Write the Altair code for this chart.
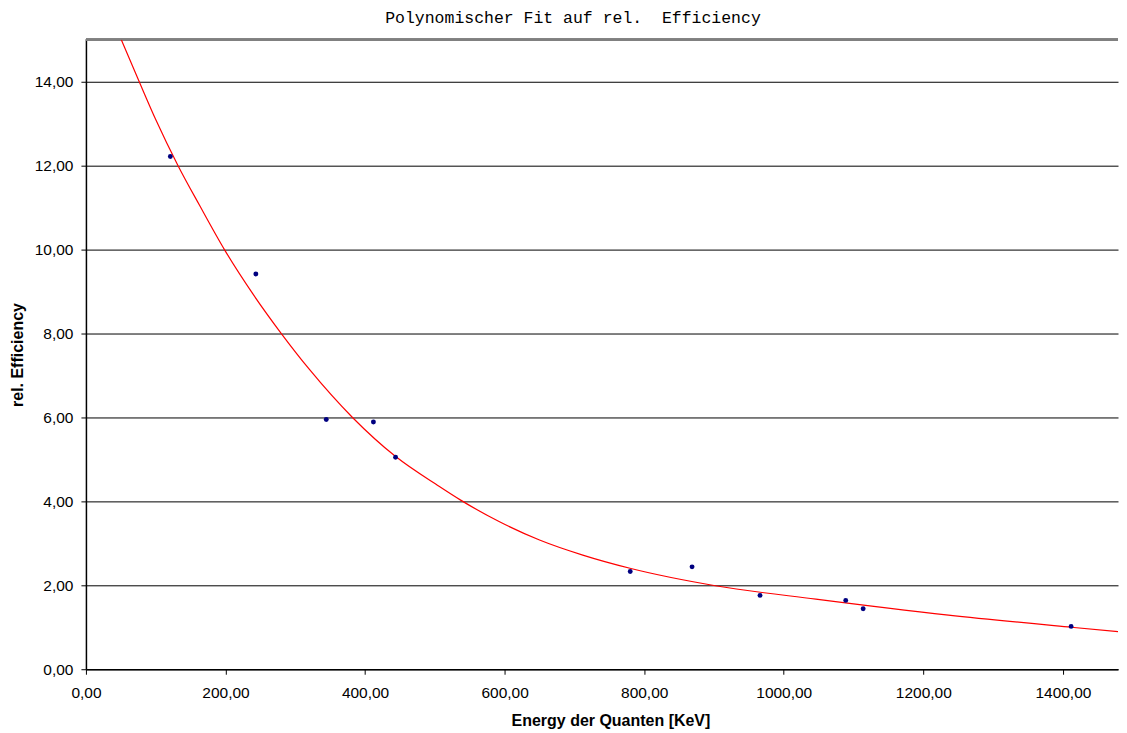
import altair as alt
import pandas as pd

# measured points
energy = [121, 243.5, 344.4, 412, 443.7, 780, 868.6, 966, 1088.8, 1113.8, 1411.8]
eff = [12.22, 9.42, 5.95, 5.89, 5.05, 2.33, 2.44, 1.76, 1.64, 1.44, 1.02]

# polynomial fit curve
fit_x = [50.7, 76.4, 100, 132, 163, 198.5, 239, 280, 320, 382, 443, 506, 537, 592,
         650, 712, 781, 902, 1046, 1236, 1412, 1489]
fit_y = [15.0, 14.0, 13.1, 12.0, 11.05, 10.0, 8.95, 8.0, 7.15, 6.0, 5.08, 4.36, 4.03, 3.52,
         3.08, 2.72, 2.40, 1.99, 1.67, 1.29, 1.0, 0.88]

x_ticks = [0, 200, 400, 600, 800, 1000, 1200, 1400]
y_ticks = [0, 2, 4, 6, 8, 10, 12, 14]
x_max = 1479
y_max = 15

pts = pd.DataFrame({"x": energy, "y": eff})
fit = pd.DataFrame({"x": fit_x, "y": fit_y})

label_expr = "replace(format(datum.value, '.2f'), '.', ',')"

xscale = alt.Scale(domain=[0, x_max], nice=False, zero=False)
yscale = alt.Scale(domain=[0, y_max], nice=False)

xaxis = alt.Axis(values=x_ticks, labelExpr=label_expr, grid=False, labelFlush=False,
                 title="Energy der Quanten [KeV]", titleFont="Liberation Sans",
                 titleFontSize=16, titleFontWeight="bold", titleColor="black",
                 titleBaseline="alphabetic", titleY=56, titleX=525,
                 labelFont="Liberation Sans", labelFontSize=15.5, labelColor="black",
                 labelPadding=11, tickSize=5, tickColor="black", domainColor="black",
                 domainWidth=1.5, tickWidth=1)
yaxis = alt.Axis(values=y_ticks, labelExpr=label_expr, grid=True, gridColor="black",
                 gridWidth=1, gridOpacity=1, labelFlush=False,
                 title="rel. Efficiency", titleFont="Liberation Sans",
                 titleFontSize=16, titleFontWeight="bold", titleColor="black",
                 titleX=-63, titleY=315, titleAlign="center", titleBaseline="alphabetic",
                 labelFont="Liberation Sans", labelFontSize=15.5, labelColor="black",
                 labelPadding=8, tickSize=5, tickColor="black", domainColor="black",
                 domainWidth=1.5, tickWidth=1)

line = alt.Chart(fit).mark_line(color="#ff0000", strokeWidth=1.2, clip=True,
                                interpolate="monotone").encode(
    x=alt.X("x:Q", scale=xscale, axis=xaxis),
    y=alt.Y("y:Q", scale=yscale, axis=yaxis),
)

points = alt.Chart(pts).mark_circle(color="#000080", size=24, opacity=1).encode(
    x=alt.X("x:Q", scale=xscale),
    y=alt.Y("y:Q", scale=yscale),
)

top_border = alt.Chart(pts).mark_rule(color="#808080", strokeWidth=2).encode(
    y=alt.datum(y_max)
)

chart = alt.layer(top_border, line, points).properties(
    width=1033,
    height=630,
    title=alt.TitleParams("Polynomischer Fit auf rel.\u00a0 Efficiency",
                          font="Liberation Mono", fontSize=16.5, fontWeight="normal",
                          color="black", anchor="middle", dx=-29, offset=-0.6,
                          baseline="alphabetic"),
    padding={"left": 2, "top": 1.5, "right": 0, "bottom": 0},
    background="white",
).configure_view(stroke=None)

chart.save("out.html", embed_options={"renderer": "svg", "actions": False})
